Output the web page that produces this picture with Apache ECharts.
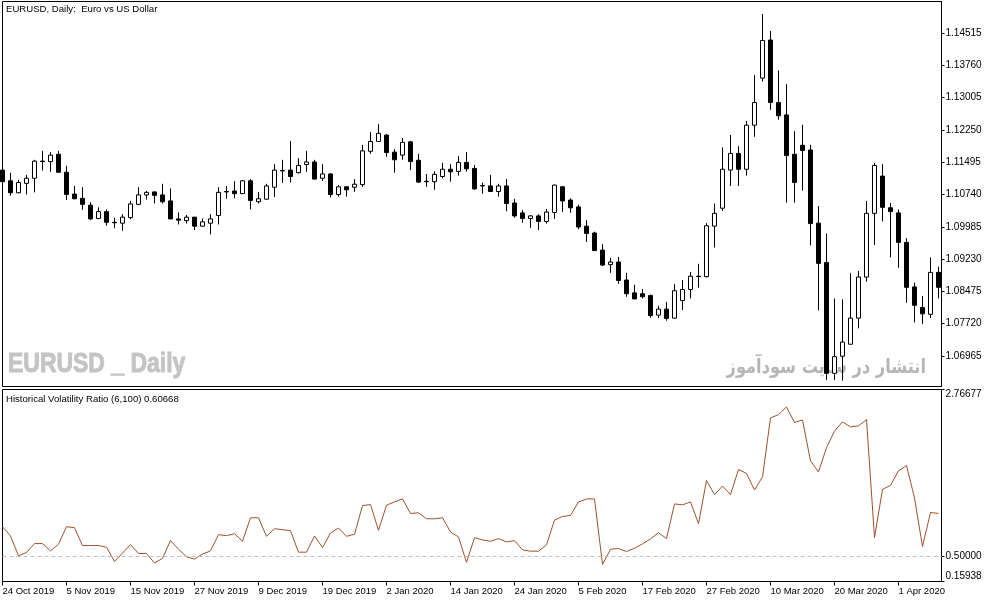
<!DOCTYPE html>
<html>
<head>
<meta charset="utf-8">
<script src="https://cdn.jsdelivr.net/npm/echarts@6/dist/echarts.min.js"></script>
<style>
html,body{margin:0;padding:0;background:#fff;}
#chart{width:994px;height:603px;}
</style>
</head>
<body>
<div id="chart"></div>
<script>
// Daily EURUSD bars, index 0 = 24 Oct 2019 ... index 117 = 8 Apr 2020
const opens = [
1.1131,1.1106,1.1078,1.1100,1.1112,1.1152,1.1151,1.1168,1.1126,1.1075,
1.1065,1.1049,1.1018,1.1034,1.1009,1.1007,1.1020,1.1051,1.1073,1.1080,
1.1073,1.1059,1.1017,1.1013,1.1021,1.1000,1.1007,1.1025,1.1080,1.1082,
1.1076,1.1106,1.1057,1.1063,1.1091,1.1130,1.1131,1.1125,1.1144,1.1150,
1.1112,1.1122,1.1074,1.1092,1.1091,1.1097,1.1175,1.1198,1.1213,1.1173,
1.1166,1.1197,1.1154,1.1105,1.1104,1.1116,1.1133,1.1128,1.1149,1.1135,
1.1095,1.1094,1.1081,1.1094,1.1054,1.1031,1.1018,1.1024,1.1011,1.1032,
1.1092,1.1061,1.1045,1.1000,1.0984,1.0944,1.0910,1.0916,1.0874,1.0844,
1.0842,1.0838,1.0792,1.0806,1.0785,1.0826,1.0852,1.0883,1.0882,1.1000,
1.1042,1.1131,1.1170,1.1133,1.1236,1.1346,1.1435,1.1289,1.1260,1.1168,
1.1189,1.1178,1.1007,1.0915,1.0656,1.0696,1.0724,1.0785,1.0881,1.1030,
1.1117,1.1043,1.1031,1.0962,1.0858,1.0810,1.0794,1.0892];
const closes = [
1.1104,1.1078,1.1102,1.1112,1.1152,1.1151,1.1166,1.1126,1.1074,1.1064,
1.1051,1.1017,1.1034,1.1009,1.1008,1.1021,1.1052,1.1073,1.1079,1.1072,
1.1057,1.1017,1.1014,1.1021,1.1000,1.1010,1.1017,1.1079,1.1081,1.1076,
1.1106,1.1060,1.1064,1.1094,1.1131,1.1129,1.1116,1.1142,1.1150,1.1110,
1.1122,1.1074,1.1092,1.1085,1.1098,1.1176,1.1198,1.1217,1.1172,1.1155,
1.1196,1.1151,1.1103,1.1104,1.1121,1.1133,1.1127,1.1149,1.1134,1.1087,
1.1094,1.1081,1.1094,1.1053,1.1024,1.1018,1.1024,1.1011,1.1033,1.1096,
1.1059,1.1043,1.0998,1.0983,1.0943,1.0909,1.0916,1.0873,1.0842,1.0830,
1.0835,1.0791,1.0806,1.0784,1.0849,1.0852,1.0883,1.0882,1.1001,1.1030,
1.1133,1.1170,1.1133,1.1236,1.1289,1.1434,1.1289,1.1258,1.1165,1.1102,
1.1177,1.1006,1.0913,1.0656,1.0695,1.0729,1.0785,1.0881,1.1030,1.1142,
1.1044,1.1034,1.0962,1.0857,1.0815,1.0795,1.0892,1.0857];
const lows = [
1.1098,1.1071,1.1077,1.1074,1.1079,1.1130,1.1127,1.1125,1.1061,1.1063,
1.1038,1.1014,1.1016,1.1001,1.0995,1.0989,1.1016,1.1049,1.1062,1.1053,
1.1053,1.1016,1.1004,1.1006,1.0991,1.0999,1.0981,1.1004,1.1064,1.1065,
1.1075,1.1039,1.1053,1.1062,1.1068,1.1101,1.1102,1.1123,1.1127,1.1109,
1.1106,1.1067,1.1069,1.1069,1.1080,1.1092,1.1169,1.1198,1.1162,1.1125,
1.1155,1.1131,1.1101,1.1092,1.1085,1.1112,1.1104,1.1118,1.1127,1.1085,
1.1076,1.1080,1.1069,1.1035,1.1020,1.1008,1.0996,1.0991,1.1006,1.1017,
1.1033,1.1031,1.0993,1.0963,1.0942,1.0907,1.0891,1.0865,1.0835,1.0829,
1.0831,1.0786,1.0785,1.0779,1.0784,1.0804,1.0831,1.0856,1.0880,1.0950,
1.1036,1.1094,1.1094,1.1118,1.1209,1.1338,1.1272,1.1249,1.1055,1.1055,
1.1083,1.0955,1.0803,1.0640,1.0640,1.0639,1.0724,1.0761,1.0870,1.0956,
1.1011,1.0927,1.0903,1.0821,1.0775,1.0771,1.0785,1.0831];
const highs = [
1.1135,1.1125,1.1108,1.1120,1.1155,1.1176,1.1173,1.1176,1.1141,1.1094,
1.1091,1.1056,1.1044,1.1039,1.1020,1.1028,1.1059,1.1091,1.1082,1.1081,
1.1099,1.1088,1.1032,1.1026,1.1022,1.1018,1.1028,1.1091,1.1094,1.1105,
1.1108,1.1110,1.1080,1.1099,1.1145,1.1155,1.1199,1.1159,1.1176,1.1155,
1.1145,1.1124,1.1096,1.1094,1.1110,1.1190,1.1220,1.1239,1.1215,1.1180,
1.1206,1.1199,1.1169,1.1122,1.1128,1.1148,1.1145,1.1164,1.1173,1.1143,
1.1102,1.1120,1.1099,1.1110,1.1064,1.1038,1.1026,1.1028,1.1040,1.1097,
1.1094,1.1065,1.1050,1.1014,1.0987,1.0958,1.0926,1.0928,1.0891,1.0863,
1.0853,1.0840,1.0814,1.0823,1.0865,1.0874,1.0893,1.0912,1.1007,1.1053,
1.1184,1.1213,1.1187,1.1246,1.1353,1.1496,1.1456,1.1364,1.1332,1.1222,
1.1237,1.1190,1.1047,1.0983,1.0831,1.0829,1.0890,1.0895,1.1059,1.1148,
1.1145,1.1054,1.1039,1.0972,1.0868,1.0837,1.0927,1.0905];

// Historical Volatility Ratio (6,100)
const hvr = [
0.9035,0.7778,0.5084,0.5533,0.6745,0.6745,0.5757,0.6655,0.9035,0.8900,
0.6475,0.6475,0.6475,0.6251,0.4320,0.5443,0.6610,0.5398,0.5398,0.4096,
0.4724,0.7149,0.5982,0.4949,0.4635,0.5308,0.5757,0.7957,0.7822,0.8092,
0.7059,1.0247,1.0247,0.7733,0.8765,0.8631,0.8496,0.5577,0.5577,0.7778,
0.6206,0.8182,0.8855,0.7733,0.8002,1.1908,1.2043,0.8541,1.1953,1.2402,
1.2806,1.0831,1.0920,1.0112,1.0112,1.0247,0.8316,0.7643,0.4186,0.7553,
0.7239,0.7059,0.7418,0.6969,0.7149,0.5892,0.5712,0.5712,0.6565,0.9933,
1.0427,1.0561,1.2402,1.2806,1.2806,0.3916,0.5982,0.6071,0.5667,0.6116,
0.6700,0.7373,0.8227,0.7418,1.2133,1.1998,1.2402,0.9439,1.5321,1.3390,
1.4557,1.3390,1.6802,1.6264,1.4019,1.5815,2.3807,2.4256,2.5289,2.3178,
2.3537,1.7970,1.6488,1.9766,2.2011,2.3268,2.2595,2.2729,2.3582,0.7553,
1.4108,1.4647,1.6623,1.7341,1.2941,0.6341,1.0965,1.0831];

const dateTickIndex = [0,8,16,24,32,40,48,56,64,72,80,88,96,104,112];
const dateTickLabels = ["24 Oct 2019","5 Nov 2019","15 Nov 2019","27 Nov 2019","9 Dec 2019",
  "19 Dec 2019","2 Jan 2020","14 Jan 2020","24 Jan 2020","5 Feb 2020","17 Feb 2020",
  "27 Feb 2020","10 Mar 2020","20 Mar 2020","1 Apr 2020"];
const priceTicks = [1.06965,1.07720,1.08475,1.09230,1.09985,1.10740,1.11495,1.12250,1.13005,1.13760,1.14515];
const hvrTicks = [0.15938,0.50000,2.76677];
const hvrLevel = 0.5;

const chartTitle = 'EURUSD, Daily:  Euro vs US Dollar';
const indTitle = 'Historical Volatility Ratio (6,100) 0.60668';
const watermark1 = 'EURUSD _ Daily';
const watermark2 = 'انتشار در سایت سودآموز';

const candleData = opens.map((o, i) => [i, o, closes[i], lows[i], highs[i]]);
const hvrData = hvr.map((v, i) => [i, v]);

const FONT = '"Liberation Sans", Arial, sans-serif';
const chart = echarts.init(document.getElementById('chart'), null, {renderer: 'canvas'});

const option = {
  animation: false,
  backgroundColor: '#ffffff',
  grid: [
    {left: 2.5, top: 1.5, width: 939, height: 385, show: true, borderColor: '#000', borderWidth: 1,
     backgroundColor: 'transparent', containLabel: false, outerBoundsMode: 'none'},
    {left: 2.5, top: 389.5, width: 939, height: 192, show: true, borderColor: '#000', borderWidth: 1,
     backgroundColor: 'transparent', containLabel: false, outerBoundsMode: 'none'}
  ],
  xAxis: [
    {type: 'value', gridIndex: 0, min: 0, max: 117.375,
     axisLine: {show: false}, axisTick: {show: false}, axisLabel: {show: false}, splitLine: {show: false}},
    {type: 'value', gridIndex: 1, min: 0, max: 117.375,
     axisLine: {show: true, onZero: false, lineStyle: {color: '#000', width: 1}},
     axisTick: {show: true, length: 4, customValues: dateTickIndex, lineStyle: {color: '#000', width: 1}},
     axisLabel: {show: true, customValues: dateTickIndex, hideOverlap: false,
       formatter: function (v) {
         let k = 0, best = 1e9;
         dateTickIndex.forEach((d, j) => { if (Math.abs(d - v) < best) { best = Math.abs(d - v); k = j; } });
         return dateTickLabels[k];
       },
       align: 'left', margin: 5, color: '#000', fontFamily: FONT, fontSize: 9.5},
     splitLine: {show: false}}
  ],
  yAxis: [
    {type: 'value', gridIndex: 0, position: 'right', min: 1.06252, max: 1.15251,
     axisLine: {show: true, onZero: false, lineStyle: {color: '#000', width: 1}},
     axisTick: {show: true, length: 3, customValues: priceTicks, lineStyle: {color: '#000', width: 1}},
     axisLabel: {show: true, customValues: priceTicks, hideOverlap: false,
       formatter: v => Number(v).toFixed(5), margin: 4, color: '#000', fontFamily: FONT, fontSize: 10},
     splitLine: {show: false}},
    {type: 'value', gridIndex: 1, position: 'right', min: 0.15938, max: 2.76677,
     axisLine: {show: true, onZero: false, lineStyle: {color: '#000', width: 1}},
     axisTick: {show: true, length: 3, customValues: hvrTicks, lineStyle: {color: '#000', width: 1}},
     axisLabel: {show: true, customValues: hvrTicks, hideOverlap: false,
       formatter: v => Number(v).toFixed(5), margin: 4, color: '#000', fontFamily: FONT, fontSize: 10,
       verticalAlignMinLabel: 'bottom', verticalAlignMaxLabel: 'top'},
     splitLine: {show: false}}
  ],
  graphic: [
    {type: 'text', x: 8, y: 364, z: 0, scaleX: 0.82, silent: true,
     style: {text: watermark1, fill: '#c4c4c4', stroke: '#c4c4c4', lineWidth: 1,
       font: 'bold 28px "Liberation Sans", Arial, sans-serif',
       align: 'left', verticalAlign: 'middle'}},
    {type: 'text', x: 926, y: 368, z: 0, scaleX: 0.81, silent: true,
     style: {text: watermark2, fill: '#b6b6b6', font: 'bold 20px "DejaVu Sans", sans-serif',
       align: 'right', verticalAlign: 'middle'}},
    {type: 'text', x: 6, y: 9, z: 10, silent: true,
     style: {text: chartTitle, fill: '#000', font: '9.6px "Liberation Sans", Arial, sans-serif',
       align: 'left', verticalAlign: 'middle'}},
    {type: 'text', x: 6, y: 399, z: 10, silent: true,
     style: {text: indTitle, fill: '#000', font: '9.6px "Liberation Sans", Arial, sans-serif',
       align: 'left', verticalAlign: 'middle'}}
  ],
  series: [
    {type: 'candlestick', xAxisIndex: 0, yAxisIndex: 0, data: candleData, barWidth: 4, clip: true,
     itemStyle: {color: '#ffffff', color0: '#000000', borderColor: '#000000', borderColor0: '#000000', borderWidth: 1},
     emphasis: {disabled: true}},
    {type: 'line', xAxisIndex: 1, yAxisIndex: 1, data: hvrData, symbol: 'none', showSymbol: false,
     lineStyle: {color: '#A0522D', width: 1}, itemStyle: {color: '#A0522D'}, emphasis: {disabled: true},
     markLine: {silent: true, symbol: ['none', 'none'], label: {show: false}, animation: false,
       lineStyle: {color: '#c0c0c0', type: [4, 3], width: 1}, data: [{yAxis: hvrLevel}]}}
  ]
};
chart.setOption(option);
</script>
</body>
</html>
